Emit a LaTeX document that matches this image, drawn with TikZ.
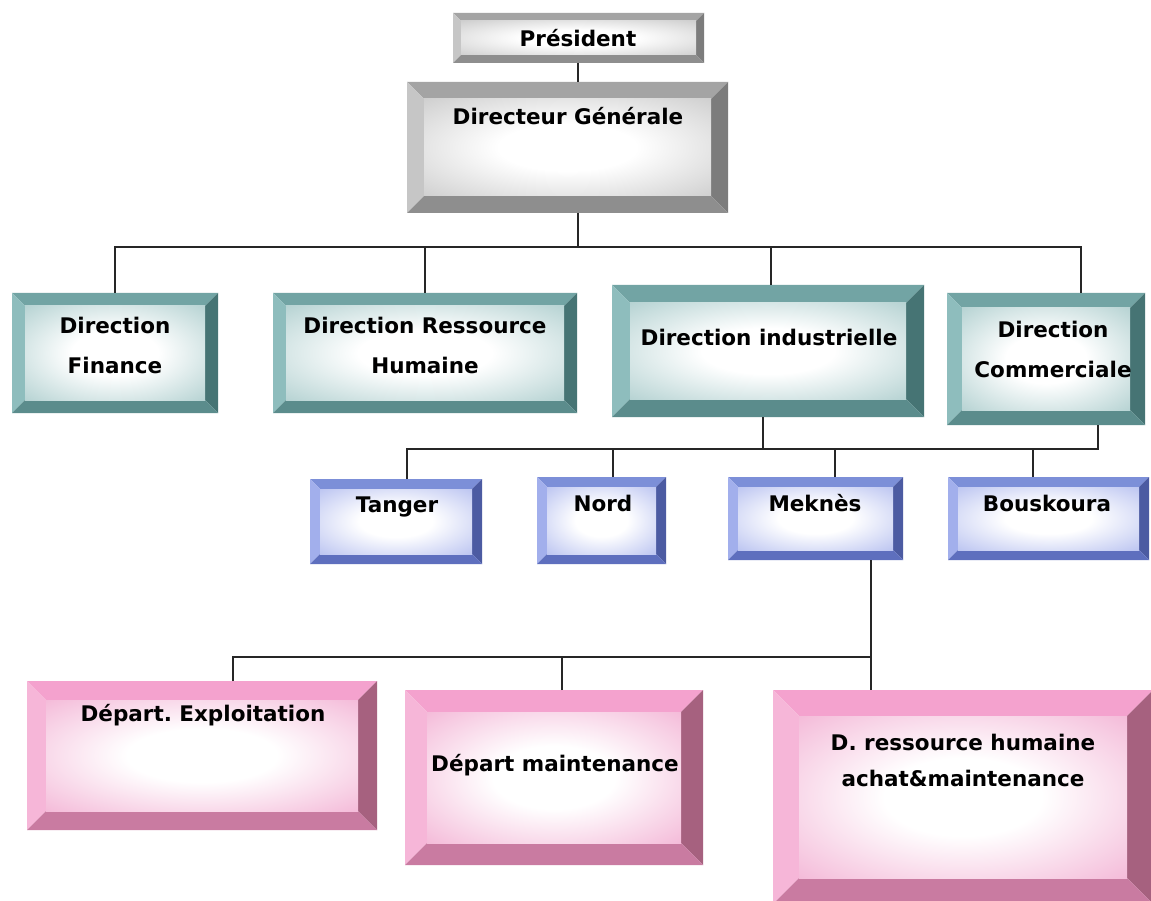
\documentclass[tikz,border=0pt]{standalone}
\usepackage{fontspec}
\setmainfont{DejaVu Sans}
\usetikzlibrary{calc}
\frenchspacing
\definecolor{ftint}{HTML}{C4C4C4}
\pgfdeclareradialshading[ftint]{facesh}{\pgfpoint{0bp}{0bp}}{color(0bp)=(white);color(12bp)=(white);color(44bp)=(ftint);color(50bp)=(ftint)}
\definecolor{grT}{HTML}{A4A4A4}
\definecolor{grL}{HTML}{C6C6C6}
\definecolor{grR}{HTML}{7C7C7C}
\definecolor{grB}{HTML}{8E8E8E}
\definecolor{grF}{HTML}{BEBEBE}
\definecolor{tlT}{HTML}{72A4A4}
\definecolor{tlL}{HTML}{8EBDBD}
\definecolor{tlR}{HTML}{467474}
\definecolor{tlB}{HTML}{5B8C8C}
\definecolor{tlF}{HTML}{9CC3C3}
\definecolor{blT}{HTML}{7C8FD8}
\definecolor{blL}{HTML}{A2AFEC}
\definecolor{blR}{HTML}{4C5BA2}
\definecolor{blB}{HTML}{5E6FBE}
\definecolor{blF}{HTML}{A4B0EC}
\definecolor{pkT}{HTML}{F4A2CE}
\definecolor{pkL}{HTML}{F6B6D8}
\definecolor{pkR}{HTML}{A6617F}
\definecolor{pkB}{HTML}{C97BA1}
\definecolor{pkF}{HTML}{F0A2CB}
\tikzset{
  bevw/.store in=\bevW, bevw=10pt,
  bevcols/.code n args={5}{\def\bvT{#1}\def\bvL{#2}\def\bvR{#3}\def\bvB{#4}\def\bvF{#5}},
  bevbox/.style={rectangle, inner sep=0pt, outer sep=0pt, fill=white, draw=none,
    path picture={
      \coordinate (ppA) at (path picture bounding box.south west);
      \coordinate (ppB) at (path picture bounding box.north east);
      \coordinate (ppC) at (path picture bounding box.north west);
      \coordinate (ppD) at (path picture bounding box.south east);
      \fill[\bvT] (ppC) -- (ppB) -- ($(ppB)+(-\bevW,-\bevW)$) -- ($(ppC)+(\bevW,-\bevW)$) -- cycle;
      \fill[\bvL] (ppA) -- (ppC) -- ($(ppC)+(\bevW,-\bevW)$) -- ($(ppA)+(\bevW,\bevW)$) -- cycle;
      \fill[\bvR] (ppB) -- (ppD) -- ($(ppD)+(-\bevW,\bevW)$) -- ($(ppB)+(-\bevW,-\bevW)$) -- cycle;
      \fill[\bvB] (ppA) -- (ppD) -- ($(ppD)+(-\bevW,\bevW)$) -- ($(ppA)+(\bevW,\bevW)$) -- cycle;
      \colorlet{ftint}{\bvF}
      \shade[shading=facesh] ($(ppA)+(\bevW,\bevW)$) rectangle ($(ppB)+(-\bevW,-\bevW)$);
    }},
  grayb/.style={bevbox, bevcols={grT}{grL}{grR}{grB}{grF}},
  tealb/.style={bevbox, bevcols={tlT}{tlL}{tlR}{tlB}{tlF}},
  blueb/.style={bevbox, bevcols={blT}{blL}{blR}{blB}{blF}},
  pinkb/.style={bevbox, bevcols={pkT}{pkL}{pkR}{pkB}{pkF}},
  lbl/.style={font=\bfseries\fontsize{21.5}{40}\selectfont, align=center, inner sep=0pt, text=black},
  lbls/.style={font=\bfseries\fontsize{21.5}{36}\selectfont, align=center, inner sep=0pt, text=black},
  conn/.style={draw=black!85, line width=1.5pt},
}
\begin{document}
\begin{tikzpicture}[x=1pt,y=-1pt]
\useasboundingbox (0,0) rectangle (1151,901);
\fill[white] (0,0) rectangle (1151,901);
% boxes
\node[grayb, bevw=8pt, minimum width=251pt, minimum height=50pt] (pres) at (578.5,38) {};
\node[grayb, bevw=17pt, minimum width=321pt, minimum height=131pt] (dg) at (567.5,147.5) {};
\node[tealb, bevw=13pt, minimum width=206pt, minimum height=120pt] (fin) at (115,353) {};
\node[tealb, bevw=13pt, minimum width=304pt, minimum height=120pt] (rh) at (425,353) {};
\node[tealb, bevw=18pt, minimum width=312pt, minimum height=132pt] (ind) at (768,351) {};
\node[tealb, bevw=15pt, minimum width=198pt, minimum height=132pt] (com) at (1046,359) {};
\node[blueb, bevw=10pt, minimum width=172pt, minimum height=85pt] (tan) at (396,521.5) {};
\node[blueb, bevw=10pt, minimum width=129pt, minimum height=87pt] (nord) at (601.5,520.5) {};
\node[blueb, bevw=10pt, minimum width=175pt, minimum height=83pt] (mek) at (815.5,518.5) {};
\node[blueb, bevw=10pt, minimum width=201pt, minimum height=83pt] (bou) at (1048.5,518.5) {};
\node[pinkb, bevw=19pt, minimum width=350pt, minimum height=149pt] (exp) at (202,755.5) {};
\node[pinkb, bevw=22pt, minimum width=298pt, minimum height=175pt] (mnt) at (554,777.5) {};
\node[pinkb, bevw=26pt, minimum width=380pt, minimum height=214pt] (drh) at (963,797) {};
% labels
\node[lbl] (pres-t) at (578,38) {Président};
\node[lbl] (dg-t) at (568,116) {Directeur Générale};
\node[lbl] (fin-t) at (115,345) {Direction\\Finance};
\node[lbl] (rh-t) at (425,345) {Direction Ressource\\Humaine};
\node[lbl] (ind-t) at (769,337) {Direction industrielle};
\node[lbl] (com-t) at (1053,349) {Direction\\Commerciale};
\node[lbl] (tan-t) at (397,507) {Tanger};
\node[lbl] (nord-t) at (603,503) {Nord};
\node[lbl] (mek-t) at (815,503) {Meknès};
\node[lbl] (bou-t) at (1047,503) {Bouskoura};
\node[lbl] (exp-t) at (203,715) {Départ. Exploitation};
\node[lbl] (mnt-t) at (555,765) {Départ maintenance};
\node[lbls] (drh-t) at (963,760) {D. ressource humaine\\achat\&maintenance};
% connection points
\coordinate (bus1) at (578,247);
\coordinate (bus2) at (763,449);
\coordinate (bus3) at (871,657);
\coordinate (presB) at ($(pres.south)+(-0.5pt,0pt)$);
\coordinate (comT) at ($(com.north)+(35pt,0pt)$);
\coordinate (indT) at ($(ind.north)+(3pt,0pt)$);
\coordinate (indB) at ($(ind.south)+(-5pt,0pt)$);
\coordinate (comB) at ($(com.south)+(52pt,0pt)$);
\coordinate (tanT) at ($(tan.north)+(11pt,0pt)$);
\coordinate (nordT) at ($(nord.north)+(11.5pt,0pt)$);
\coordinate (mekT) at ($(mek.north)+(19.5pt,0pt)$);
\coordinate (bouT) at ($(bou.north)+(-15.5pt,0pt)$);
\coordinate (mekB) at ($(mek.south)+(55.5pt,0pt)$);
\coordinate (expT) at ($(exp.north)+(31pt,0pt)$);
\coordinate (mntT) at ($(mnt.north)+(8pt,0pt)$);
% connectors
\draw[conn] (presB) -- (presB |- dg.north);
\draw[conn] (bus1 |- dg.south) -- (bus1);
\draw[conn] (fin.north) |- (comT |- bus1) -- (comT);
\draw[conn] (rh.north) -- (rh.north |- bus1);
\draw[conn] (indT) -- (indT |- bus1);
\draw[conn] (indB) -- (bus2);
\draw[conn] (tanT) |- (comB |- bus2) -- (comB);
\draw[conn] (nordT) -- (nordT |- bus2);
\draw[conn] (mekT) -- (mekT |- bus2);
\draw[conn] (bouT) -- (bouT |- bus2);
\draw[conn] (mekB) -- (mekB |- drh.north);
\draw[conn] (expT) |- (bus3);
\draw[conn] (mntT) -- (mntT |- bus3);
\end{tikzpicture}
\end{document}
